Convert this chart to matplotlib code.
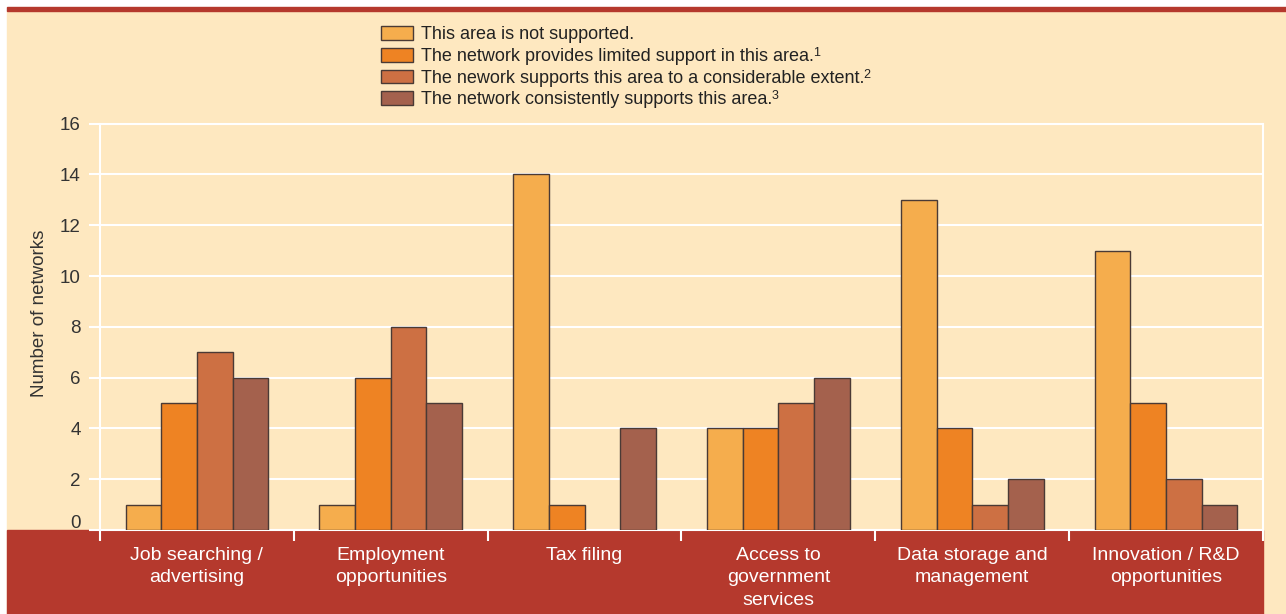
import numpy as np
import matplotlib
matplotlib.use("Agg")
import matplotlib.pyplot as plt
import matplotlib.transforms as mtransforms
from matplotlib.patches import Rectangle, Patch

plt.rcParams['font.family'] = ['Liberation Sans', 'DejaVu Sans']

categories = ["Job searching /\nadvertising", "Employment\nopportunities", "Tax filing",
              "Access to\ngovernment\nservices", "Data storage and\nmanagement",
              "Innovation / R&D\nopportunities"]
series_names = ["This area is not supported.",
                "The network provides limited support in this area.",
                "The nework supports this area to a considerable extent.",
                "The network consistently supports this area."]
footnotes = ["", "1", "2", "3"]
not_supported = [1, 1, 14, 4, 13, 11]
limited = [5, 6, 1, 4, 4, 5]
considerable = [7, 8, 0, 5, 1, 2]
consistent = [6, 5, 4, 6, 2, 1]
yticks = [0, 2, 4, 6, 8, 10, 12, 14, 16]

colors = ["#F5AD4D", "#EE8323", "#CD7043", "#A4614D"]
cream = "#FEE8C0"
red = "#B5392D"

W, H = 1286, 614
fig = plt.figure(figsize=(W / 100, H / 100), dpi=100, facecolor="white")

def px_rect(x0, y0, x1, y1, color):
    # rectangle in pixel coords measured from top-left
    fig.patches.append(Rectangle((x0 / W, 1 - y1 / H), (x1 - x0) / W, (y1 - y0) / H,
                                 transform=fig.transFigure, color=color, zorder=-2))

px_rect(7, 10, W, H, cream)
px_rect(7, 7, W, 10.5, red)
px_rect(7, 530, 1263, H, red)

ax = fig.add_axes([100 / W, 84 / H, (1263 - 100) / W, (490.3 - 84) / H])
ax.set_facecolor("none")

x = np.arange(len(categories))
w = 0.184
data = [not_supported, limited, considerable, consistent]
for i, vals in enumerate(data):
    bars = ax.bar(x + (i - 1.5) * w, vals, w, color=colors[i], edgecolor="#4a3a35",
                  linewidth=1, zorder=3)
    for b in bars:
        if b.get_height() == 0:
            b.set_visible(False)

ax.set_xlim(-0.5, 5.5)
ax.set_ylim(0, 16)
ax.set_yticks(yticks)
ax.yaxis.grid(True, color="white", linewidth=1.5, zorder=1)
ax.set_axisbelow(True)
ax.tick_params(axis="y", length=8, width=1.5, color="white", pad=6,
               labelsize=13.5, labelcolor="#333333")
ax.set_xticks(x)
ax.set_xticklabels(categories, linespacing=1.42)
ax.tick_params(axis="x", which="major", length=0, pad=12, labelsize=14,
               labelcolor="white")
ax.set_xticks(np.arange(-0.5, 6, 1), minor=True)
ax.tick_params(axis="x", which="minor", length=8, width=1.5, color="white")
for s in ax.spines.values():
    s.set_color("white")
    s.set_linewidth(1.5)

# the "0" label sits a little above the baseline in the original
zero_lab = ax.get_yticklabels()[0]
zero_lab.set_transform(zero_lab.get_transform() +
                       mtransforms.ScaledTranslation(0, 8 / 100, fig.dpi_scale_trans))

fig.text(40 / W, 1 - 313 / H, "Number of networks", rotation=90, ha="center",
         va="center", fontsize=13.5, color="#333333")

handles = [Patch(facecolor=c, edgecolor="#4a3a35", linewidth=1) for c in colors]
leg = fig.legend(handles, series_names, loc="upper left",
                 bbox_to_anchor=(374 / W, 1 - 19 / H), frameon=False, fontsize=13,
                 handlelength=1.75, handleheight=0.8, handletextpad=0.45,
                 labelspacing=0.25, borderaxespad=0, labelcolor="#222222")

# superscript footnote marks after the legend labels
fig.canvas.draw()
inv = fig.transFigure.inverted()
for t, note in zip(leg.get_texts(), footnotes):
    if not note:
        continue
    bb = t.get_window_extent()
    fx, fy = inv.transform((bb.x1 - 1, bb.y1 + 1))
    fig.text(fx, fy, note, fontsize=9, color="#222222", ha="left", va="top")

fig.savefig("out.png", dpi=100, facecolor="white")
